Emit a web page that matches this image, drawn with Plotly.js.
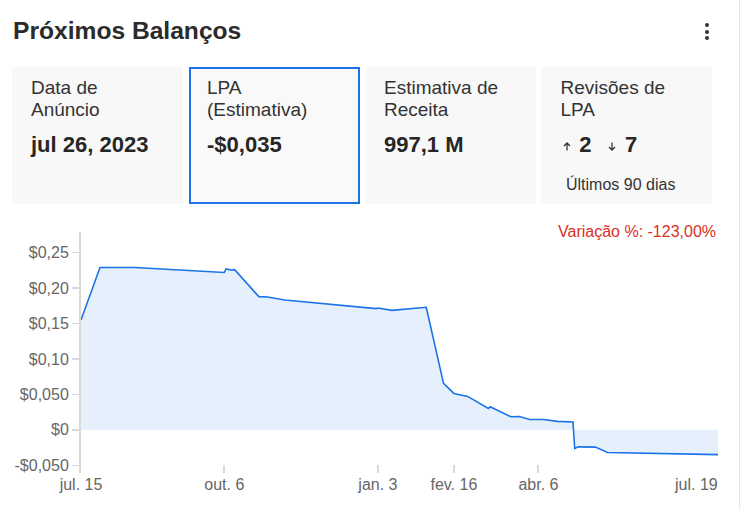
<!DOCTYPE html>
<html><head><meta charset="utf-8">
<script src="https://cdn.plot.ly/plotly-3.0.1.min.js"></script>
<style>
html,body{margin:0;padding:0;background:#fff;}
#page{position:relative;width:741px;height:510px;overflow:hidden;font-family:"Liberation Sans",Arial,sans-serif;color:#333;}
#chart{position:absolute;left:0;top:0;width:741px;height:510px;}
.t{position:absolute;white-space:nowrap;line-height:1;}
.card{position:absolute;top:67px;height:137px;background:#f8f8f8;box-sizing:border-box;}
.lab{position:absolute;white-space:nowrap;font-size:19px;line-height:22px;color:#333;}
.val{position:absolute;white-space:nowrap;font-size:22px;line-height:1;font-weight:bold;color:#262626;}
.dot{position:absolute;width:4px;height:4px;border-radius:2px;background:#333;}
.arr{position:absolute;width:8px;height:9px;}
</style>
</head><body>
<div id="page">
  <div id="chart"></div>
  <div class="t" style="left:13px;top:19.2px;font-size:24.6px;font-weight:bold;color:#2b2b2b;">Próximos Balanços</div>
  <div class="dot" style="left:704.7px;top:23px;"></div>
  <div class="dot" style="left:704.7px;top:29.7px;"></div>
  <div class="dot" style="left:704.7px;top:36.3px;"></div>

  <div class="card" style="left:12px;width:171px;"></div>
  <div class="card" style="left:189px;width:171px;background:#f9f9f9;border:2px solid #1a73e8;"></div>
  <div class="card" style="left:366px;width:170px;"></div>
  <div class="card" style="left:541px;width:171px;"></div>

  <div class="lab" style="left:31px;top:77.4px;">Data de<br>Anúncio</div>
  <div class="val" style="left:31px;top:133.9px;">jul 26, 2023</div>

  <div class="lab" style="left:207px;top:77.4px;">LPA<br>(Estimativa)</div>
  <div class="val" style="left:207px;top:133.9px;">-$0,035</div>

  <div class="lab" style="left:384px;top:77.4px;">Estimativa de<br>Receita</div>
  <div class="val" style="left:384px;top:133.9px;">997,1 M</div>

  <div class="lab" style="left:560.5px;top:77.4px;">Revisões de<br>LPA</div>
  <svg class="arr" style="left:562.5px;top:142.2px;" viewBox="0 0 8 9"><path d="M4 8.6V1 M1 4 L4 1 L7 4" fill="none" stroke="#333" stroke-width="1.3"/></svg>
  <div class="val" style="left:579.3px;top:133.9px;">2</div>
  <svg class="arr" style="left:608px;top:142.2px;" viewBox="0 0 8 9"><path d="M4 0.4V8 M1 5 L4 8 L7 5" fill="none" stroke="#333" stroke-width="1.3"/></svg>
  <div class="val" style="left:625px;top:133.9px;">7</div>
  <div class="t" style="left:566px;top:177px;font-size:16px;color:#333;">Últimos 90 dias</div>

  <div style="position:absolute;left:739px;top:0;width:1px;height:510px;background:#e8e8e8;"></div>
</div>
<script>
const estimateDates = ['2022-07-15','2022-07-26','2022-08-15','2022-10-06','2022-10-07','2022-10-10','2022-10-12','2022-10-26','2022-10-31','2022-11-10','2023-01-02','2023-01-03','2023-01-11','2023-01-31','2023-02-10','2023-02-16','2023-02-24','2023-03-08','2023-03-09','2023-03-21','2023-03-26','2023-04-01','2023-04-09','2023-04-17','2023-04-26','2023-04-27','2023-04-29','2023-05-09','2023-05-16','2023-07-19'];
const estimateValues = [0.155,0.229,0.229,0.222,0.227,0.2255,0.226,0.188,0.1874,0.1832,0.171,0.172,0.1686,0.173,0.0655,0.0514,0.0472,0.0302,0.0325,0.0184,0.0189,0.0147,0.0147,0.0119,0.0111,-0.0263,-0.024,-0.0244,-0.0319,-0.035];
const xTickDates = ['2022-07-15','2022-10-06','2023-01-03','2023-02-16','2023-04-06','2023-07-19'];
const xTickLabels = ['jul. 15','out. 6','jan. 3','fev. 16','abr. 6','jul. 19'];
const yTickValues = [-0.05,0,0.05,0.10,0.15,0.20,0.25];
const yTickLabels = ['-$0,050','$0','$0,050','$0,10','$0,15','$0,20','$0,25'];
const changeLabel = 'Variação %: -123,00%';

const FONT = 'Liberation Sans, Arial, sans-serif';
const lastIdx = xTickLabels.length - 1;
const shownTickText = xTickLabels.map((t, i) => i === lastIdx ? '' : t);

const trace = {
  type: 'scatter', mode: 'lines',
  x: estimateDates, y: estimateValues,
  line: {color: '#1a73e8', width: 1.6},
  fill: 'tozeroy', fillcolor: 'rgba(26,115,232,0.11)',
  hoverinfo: 'skip'
};
const layout = {
  width: 741, height: 510,
  margin: {l: 81, r: 23, t: 232, b: 37, pad: 0},
  paper_bgcolor: 'rgba(0,0,0,0)', plot_bgcolor: 'rgba(0,0,0,0)',
  showlegend: false,
  font: {family: FONT, size: 16, color: '#666'},
  xaxis: {
    type: 'date', range: [xTickDates[0], xTickDates[lastIdx]],
    tickmode: 'array', tickvals: xTickDates, ticktext: shownTickText,
    ticks: 'inside', ticklen: 8, tickwidth: 2, tickcolor: '#d9d9d9',
    showgrid: false, zeroline: false, showline: false,
    tickfont: {family: FONT, size: 16, color: '#666'}
  },
  yaxis: {
    range: [-0.0609, 0.2792],
    tickmode: 'array', tickvals: yTickValues, ticktext: yTickLabels,
    ticks: 'outside', ticklen: 7, tickwidth: 1.5, tickcolor: '#d9d9d9',
    showgrid: false, zeroline: false,
    showline: true, linecolor: '#d9d9d9', linewidth: 2,
    tickfont: {family: FONT, size: 16, color: '#666'}
  },
  annotations: [
    {text: changeLabel, xref: 'paper', yref: 'paper', x: 1, y: 1, xanchor: 'right', yanchor: 'middle',
     yshift: 1, showarrow: false, font: {family: FONT, size: 16, color: '#d93025'}},
    {text: xTickLabels[lastIdx], xref: 'x', yref: 'paper', x: xTickDates[lastIdx], y: 0, xanchor: 'right', yanchor: 'top',
     yshift: -1, xshift: 2, showarrow: false, font: {family: FONT, size: 16, color: '#666'}}
  ]
};
Plotly.newPlot('chart', [trace], layout, {staticPlot: true, displayModeBar: false});
</script>
</body></html>
